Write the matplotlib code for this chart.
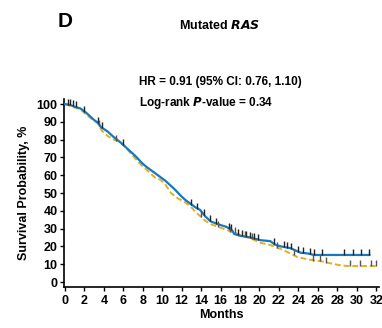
import numpy as np
import matplotlib
matplotlib.use('Agg')
import matplotlib.pyplot as plt

plt.rcParams['font.family'] = ['Liberation Sans Narrow', 'Liberation Sans', 'DejaVu Sans']
plt.rcParams['font.weight'] = 'bold'

# blue arm (solid)
blue_t = [0, 0.5, 1.0, 1.6, 2.2, 2.6, 3.0, 3.4, 3.7, 4.0, 4.4, 5.0, 5.7, 6.2, 6.8, 7.3, 7.8,
          8.3, 8.8, 9.3, 9.8, 10.3, 10.8, 11.3, 11.9, 12.4, 12.9, 13.4, 13.9, 14.4, 15.0,
          15.5, 16.0, 16.6, 17.2, 17.4, 18.0, 19.1, 20.1, 21.1, 21.6, 22.2, 23.2, 24.2,
          25.0, 25.6, 31.3]
blue_s = [100, 99.5, 98.5, 97.5, 95, 93, 91, 89.5, 87, 86, 84.5, 81.5, 78.5, 76, 73, 70.5,
          67.5, 65, 63, 61, 59, 57, 54.5, 52, 48.5, 46, 44, 42, 40.5, 37, 34, 33, 32, 31,
          29, 27, 26, 25, 23.5, 23, 21, 20, 19, 16.5, 16, 15.2, 15.2]
blue_cens = [0.3, 0.5, 0.8, 1.1, 2.0, 3.4, 3.8, 6.0, 13.0, 13.6, 14.3, 14.9, 15.5, 16.9, 17.1,
             17.8, 18.2, 18.6, 19.0, 19.4, 19.8, 21.5, 22.5, 22.8, 23.2, 24.0, 24.5, 25.2,
             25.6, 26.4, 28.7, 29.6, 30.4, 31.3]

# yellow arm (dashed)
yel_t = [0, 0.5, 1.0, 1.6, 2.2, 2.8, 3.4, 3.8, 4.4, 5.0, 5.6, 6.2, 6.8, 7.3, 7.8, 8.3, 8.8,
         9.3, 9.8, 10.3, 10.9, 11.6, 12.3, 12.9, 13.4, 13.9, 14.4, 15.0, 16.0, 17.0, 18.0,
         19.1, 20.1, 21.0, 22.2, 23.0, 23.9, 25.2, 26.5, 27.3, 28.2, 29.0, 32.0]
yel_s = [100, 99, 98, 97, 94, 91.5, 89, 85, 82, 80, 79, 76, 72, 69, 66, 63.5, 61, 58.5, 57.5,
         55, 50, 47, 45, 42.5, 39.5, 37, 34.5, 32.5, 30.5, 28.5, 26.5, 24.5, 22, 21, 18.5,
         16.5, 14, 12.5, 11.5, 10.5, 9.5, 9, 9]
yel_cens = [3.5, 5.2, 14.0, 15.7, 17.0, 17.5, 18.5, 19.2, 21.8, 23.5, 25.5, 26.2, 26.8, 29.3,
            30.3, 31.5, 32.0]

blue = '#1479c4'
yellow = '#e8ae1c'

fig = plt.figure(figsize=(3.82, 3.28), dpi=100)
ax = fig.add_axes([0.1675, 0.125, 0.825, 0.573])

# many small KM steps in the original look almost continuous
ax.plot(blue_t, blue_s, color=blue, lw=1.6, zorder=3)
ax.plot(yel_t, yel_s, color=yellow, lw=1.4, ls=(0, (3, 1.5)), zorder=2)

def surv_at(t, times, surv):
    return np.interp(t, times, surv)

ax.plot(blue_cens, surv_at(blue_cens, blue_t, blue_s) + 1.5, ls='none', marker='|',
        ms=5, mew=1, color='#222222', zorder=4)
ax.plot(yel_cens, surv_at(yel_cens, yel_t, yel_s) + 1.5, ls='none', marker='|',
        ms=5, mew=1, color='#555555', zorder=4)

ax.set_xlim(-0.1, 32.3)
ax.set_ylim(-2.8, 102.8)
ax.set_xticks(range(0, 33, 2))
ax.set_yticks(range(0, 101, 10))
ax.tick_params(labelsize=9, length=3, width=1)
ax.tick_params(axis='x', pad=3)
ax.tick_params(axis='y', pad=1.5)
for s in ['top', 'right']:
    ax.spines[s].set_visible(False)
for s in ['left', 'bottom']:
    ax.spines[s].set_linewidth(1.2)
ax.set_xlabel('Months', fontsize=9, fontweight='bold', labelpad=1)
ax.set_ylabel('Survival Probability, %', fontsize=9, fontweight='bold', labelpad=5)

fig.text(0.17, 0.935, 'D', fontsize=15, fontweight='bold', ha='center', va='center')
fig.text(0.575, 0.922, 'Mutated $\\bfit{RAS}$', fontsize=9, fontweight='bold',
         ha='center', va='center')
fig.text(0.363, 0.75, 'HR = 0.91 (95% CI: 0.76, 1.10)', fontsize=8.5, fontweight='bold',
         ha='left', va='center')
fig.text(0.363, 0.687, 'Log-rank $\\bfit{P}$-value = 0.34', fontsize=8.5, fontweight='bold',
         ha='left', va='center')

fig.savefig('out.png', dpi=100)
